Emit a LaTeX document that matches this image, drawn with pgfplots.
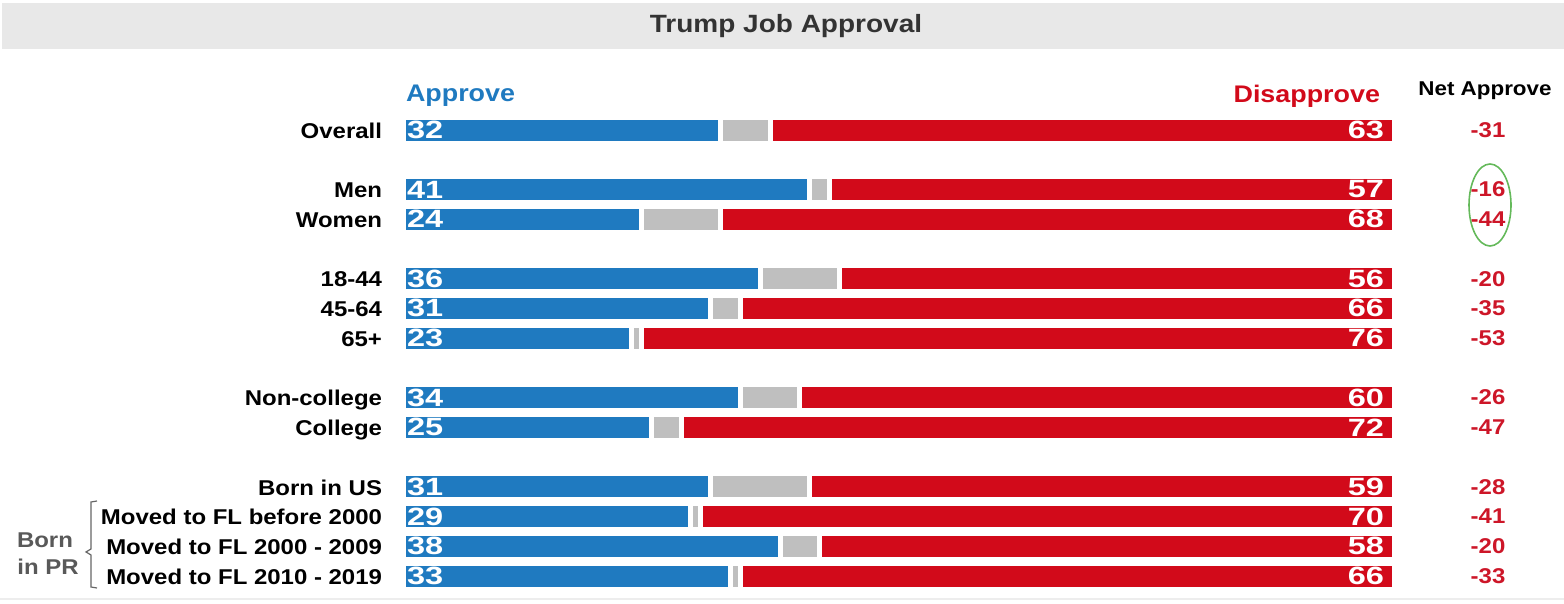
\documentclass[border=0pt]{standalone}
\usepackage{fontspec}
\setmainfont{Liberation Sans}[FakeStretch=1.12]
\newfontfamily\numfont{Liberation Sans}[FakeStretch=1.3]
\usepackage{pgfplots}
\pgfplotsset{compat=1.18}
\usepackage{pgfplotstable}

\definecolor{appblue}{RGB}{31,122,192}
\definecolor{disred}{RGB}{210,10,26}
\definecolor{gapgray}{RGB}{191,191,191}
\definecolor{titlebar}{RGB}{232,232,232}
\definecolor{netred}{RGB}{205,22,40}
\definecolor{ringgreen}{RGB}{100,185,90}

\newcommand{\labfont}{\bfseries\fontsize{10.7}{12}\selectfont}
\newcommand{\barnum}{\numfont\bfseries\fontsize{12.5}{12}\selectfont}

\pgfplotstableread{
y a g d n
0 32 5 63 -31
-2 41 2 57 -16
-3 24 8 68 -44
-5 36 8 56 -20
-6 31 3 66 -35
-7 23 1 76 -53
-9 34 6 60 -26
-10 25 3 72 -47
-12 31 10 59 -28
-13 29 1 70 -41
-14 38 4 58 -20
-15 33 1 66 -33
}\datatable

\begin{document}
\begin{tikzpicture}
\useasboundingbox (0,0) rectangle (782pt,302pt);
\begin{axis}[
  at={(0,0)}, anchor=south west,
  scale only axis, width=782pt, height=302pt,
  xmin=-40.72, xmax=117.10, ymin=-15.94, ymax=4.373,
  hide axis, clip=false,
  xbar stacked, bar width=13pt,
]
\addplot[fill=appblue, draw=white, line width=2.5pt] table[x=a,y=y]{\datatable};
\addplot[fill=gapgray, draw=white, line width=2.5pt] table[x=g,y=y]{\datatable};
\addplot[fill=disred, draw=white, line width=2.5pt] table[x=d,y=y]{\datatable};
\end{axis}
\begin{scope}[shift={(0,302pt)}, x=0.5pt, y=-0.5pt, every node/.style={inner sep=0pt, outer sep=0pt}]
  % title bar
  \fill[titlebar] (2,3) rectangle (1564,49);
  \node[font=\bfseries\fontsize{12.5}{14}\selectfont, text=black!80] at (786,26) {Trump Job Approval};
  % headers
  \node[anchor=west, font=\bfseries\fontsize{12}{13}\selectfont, text=appblue] at (406,96) {Approve};
  \node[anchor=east, font=\bfseries\fontsize{12}{13}\selectfont, text=disred] at (1380,96) {Disapprove};
  \node[font=\bfseries\fontsize{10}{12}\selectfont] at (1485,91) {Net Approve};
  % approve numbers
  \foreach \yy/\v in {130/32,189.5/41,219.2/24,278.7/36,308.4/31,338.1/23,397.6/34,427.3/25,486.8/31,516.5/29,546.2/38,575.95/33}
    \node[anchor=west, text=white, font=\barnum] at (407,\yy) {\v};
  % disapprove numbers
  \foreach \yy/\v in {130/63,189.5/57,219.2/68,278.7/56,308.4/66,338.1/76,397.6/60,427.3/72,486.8/59,516.5/70,546.2/58,575.95/66}
    \node[anchor=east, text=white, font=\barnum] at (1384,\yy) {\v};
  % row labels
  \foreach \yy/\t in {130/Overall,189.5/Men,219.2/Women,278.7/18-44,308.4/45-64,338.1/65+,397.6/Non-college,427.3/College,486.8/Born in US,516.5/Moved to FL before 2000,546.2/Moved to FL 2000 - 2009,575.95/Moved to FL 2010 - 2019}
    \node[anchor=mid east, font=\labfont, yshift=-1.5pt] at (382,\yy) {\t};
  % net values
  \foreach \yy/\v in {130/-31,189.5/-16,219.2/-44,278.7/-20,308.4/-35,338.1/-53,397.6/-26,427.3/-47,486.8/-28,516.5/-41,546.2/-20,575.95/-33}
    \node[text=netred, font=\labfont] at (1488,\yy) {\v};
  % ring
  \draw[ringgreen, line width=0.8pt] (1490,205) ellipse [x radius=21, y radius=41];
  % Born in PR bracket
  \node[font=\labfont, text=black!65] at (45,540) {Born};
  \node[font=\labfont, text=black!65] at (48,567) {in PR};
  \draw[black!60, line width=0.6pt] (97,501) -- (91,502) -- (91,549) -- (86,552) -- (91,555) -- (91,587) -- (97,588);
  \draw[black!7, line width=1pt] (0,599) -- (1564,599);
\end{scope}
\end{tikzpicture}
\end{document}
